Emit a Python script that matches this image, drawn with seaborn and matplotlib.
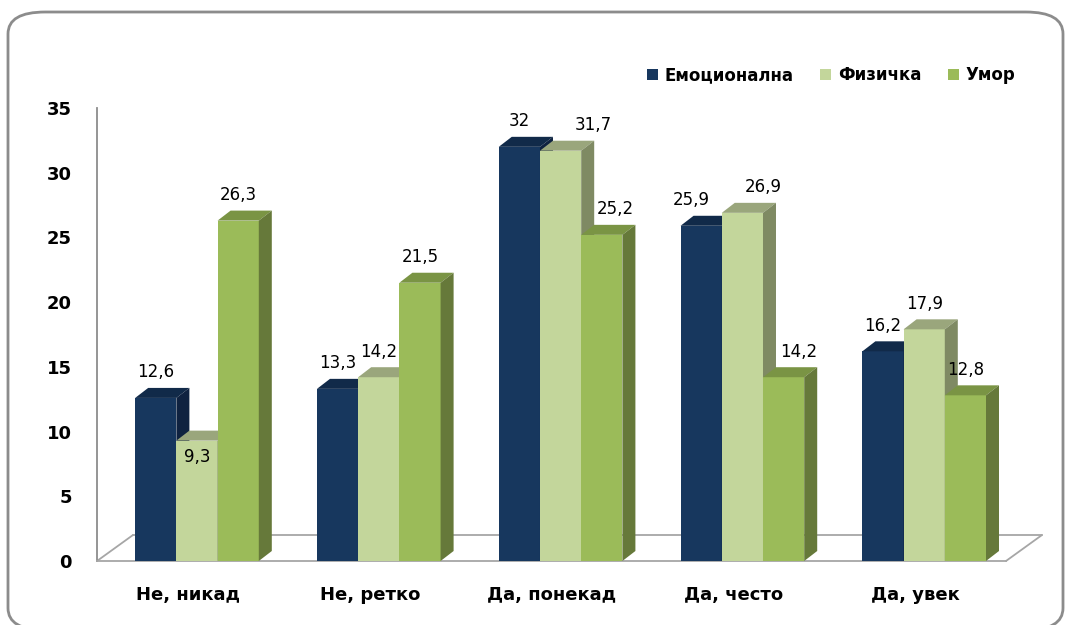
import pandas as pd
import matplotlib.pyplot as plt
import seaborn as sns
from matplotlib.patches import Polygon, FancyBboxPatch, Rectangle

# подаци
categories = ['Не, никад', 'Не, ретко', 'Да, понекад', 'Да, често', 'Да, увек']
series_names = ['Емоционална', 'Физичка', 'Умор']
emotional = [12.6, 13.3, 32, 25.9, 16.2]
physical = [9.3, 14.2, 31.7, 26.9, 17.9]
fatigue = [26.3, 21.5, 25.2, 14.2, 12.8]

df = pd.DataFrame({
    'kategorija': categories * 3,
    'serija': [s for s in series_names for _ in categories],
    'vrednost': emotional + physical + fatigue,
})

# boje: prednja, gornja i bocna strana stubica
front_colors = ['#17375E', '#C3D69B', '#9BBB59']
top_colors = ['#112A49', '#9AA67C', '#7A9444']
side_colors = ['#0F2240', '#7F8A63', '#66793A']

sns.set_style('white')
plt.rcParams['font.family'] = ['DejaVu Sans']
plt.rcParams['text.color'] = 'black'
plt.rcParams['xtick.labelcolor'] = 'black'
plt.rcParams['ytick.labelcolor'] = 'black'

W, H = 1065, 625
fig = plt.figure(figsize=(W / 100, H / 100), dpi=100)

# okvir oko grafikona
frame = FancyBboxPatch((8 / W, -5 / H), 1055 / W, 618 / H,
                       boxstyle='round,pad=0,rounding_size=0.035',
                       transform=fig.transFigure, fill=False,
                       edgecolor='#8C8C8C', lw=2)
fig.patches.append(frame)

# osa: 0 na 561px, 35 na 108px
ax = fig.add_axes([97 / W, (H - 561) / H, (1006 - 97) / W, 453 / H])
sns.barplot(data=df, x='kategorija', y='vrednost', hue='serija',
            palette=front_colors, hue_order=series_names, order=categories,
            width=0.68, saturation=1, legend=False, ax=ax)
ax.set_xlim(-0.5, 4.5)
ax.set_ylim(0, 35)

px_x = (1006 - 97) / 5.0      # piksela po kategoriji
px_y = 453 / 35.0             # piksela po jedinici
dx = 13 / px_x
dy = 10 / px_y
shift = 0.05

# pomeranje etiketa (u pikselima) i etikete unutar stubica
nudge = {(2, 1): 33, (2, 2): 14, (3, 0): -10, (3, 1): 21, (3, 2): 15}
inside = {(0, 1)}

for j, cont in enumerate(ax.containers):
    for i, bar in enumerate(cont):
        bar.set_x(bar.get_x() + shift)
        bar.set_edgecolor('none')
        bar.set_zorder(3 + j)
        x0 = bar.get_x()
        x1 = x0 + bar.get_width()
        h = bar.get_height()
        top = Polygon([(x0, h), (x0 + dx, h + dy), (x1 + dx, h + dy), (x1, h)],
                      closed=True, facecolor=top_colors[j], edgecolor='none',
                      zorder=3 + j, clip_on=False)
        side = Polygon([(x1, 0), (x1, h), (x1 + dx, h + dy), (x1 + dx, dy)],
                       closed=True, facecolor=side_colors[j], edgecolor='none',
                       zorder=3 + j, clip_on=False)
        ax.add_patch(top)
        ax.add_patch(side)
        label = f'{h:g}'.replace('.', ',')
        cx = (x0 + x1) / 2
        if (i, j) in inside:
            ax.annotate(label, (cx, h), xytext=(0, -12), textcoords='offset points',
                        ha='center', va='center', fontsize=12, color='black',
                        zorder=10)
        else:
            off = nudge.get((i, j), 0) * 0.72
            ax.annotate(label, (cx, h), xytext=(off, 12), textcoords='offset points',
                        ha='center', va='bottom', fontsize=12, color='black',
                        zorder=10, annotation_clip=False)

# pod (3D)
fdx = 36 / px_x
fdy = 26 / px_y
floor_kw = dict(color='#A6A6A6', lw=1.3, clip_on=False, zorder=1)
ax.plot([-0.5 + fdx, 4.5 + fdx], [fdy, fdy], **floor_kw)
ax.plot([-0.5, -0.5 + fdx], [0, fdy], **floor_kw)
ax.plot([4.5, 4.5 + fdx], [0, fdy], **floor_kw)

# ose
for s in ['top', 'right']:
    ax.spines[s].set_visible(False)
ax.spines['left'].set_color('#8C8C8C')
ax.spines['bottom'].set_color('#A6A6A6')
ax.spines['left'].set_linewidth(1.3)
ax.spines['bottom'].set_linewidth(1.3)
ax.set_yticks(range(0, 36, 5))
ax.set_xticks(range(5))
ax.set_xticklabels(categories)
ax.set_xticks([k - 0.5 for k in range(6)], minor=True)
ax.tick_params(axis='y', length=6, width=1.3, color='#8C8C8C', pad=12, labelsize=13)
ax.tick_params(axis='x', which='major', length=0, pad=18, labelsize=13)
ax.tick_params(axis='x', which='minor', length=6, width=1.3, color='#A6A6A6')
for t in ax.get_xticklabels() + ax.get_yticklabels():
    t.set_fontweight('bold')
ax.set_xlabel('')
ax.set_ylabel('')

# legenda
handles = [Rectangle((0, 0), 1, 1, facecolor=c, edgecolor='none') for c in front_colors]
leg = fig.legend(handles, series_names, loc='center right',
                 bbox_to_anchor=(1030 / W, (H - 75) / H), ncol=3, frameon=False,
                 handlelength=0.65, handleheight=0.65, handletextpad=0.4,
                 columnspacing=1.6, prop={'size': 12, 'weight': 'bold'})

fig.savefig('out.png', dpi=100)
